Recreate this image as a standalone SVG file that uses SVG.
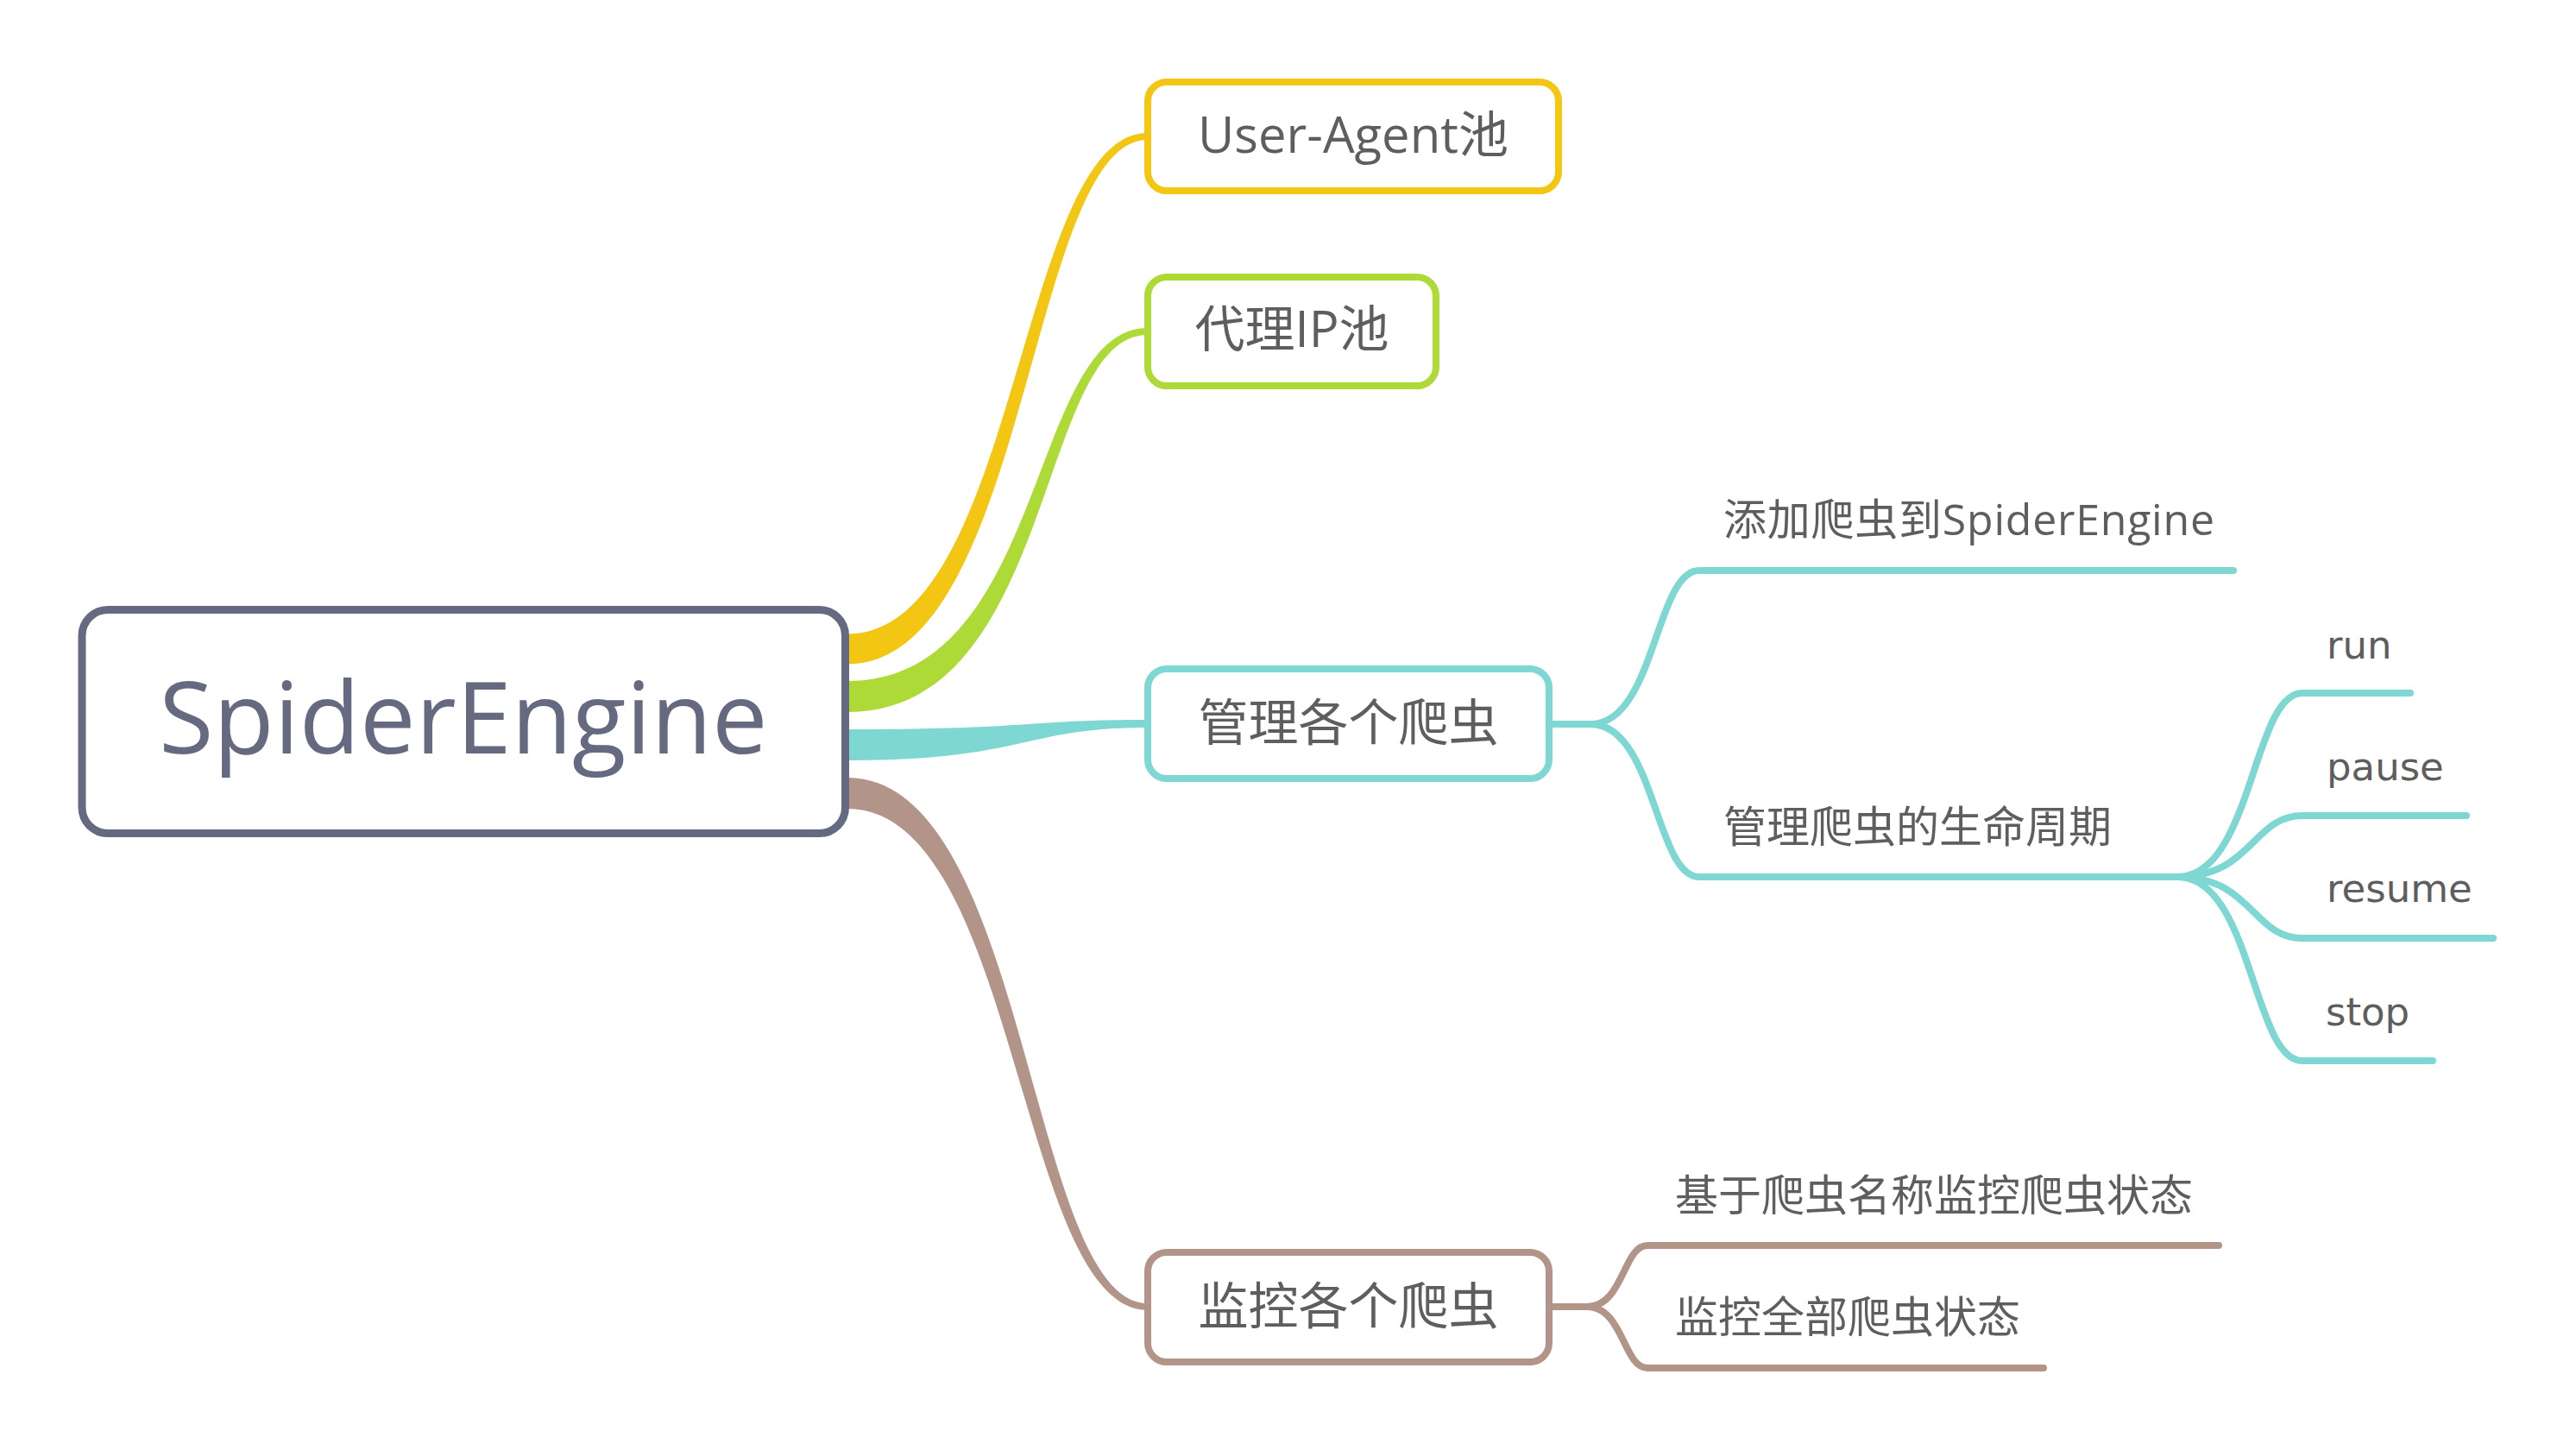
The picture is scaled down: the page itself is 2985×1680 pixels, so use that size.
<svg xmlns="http://www.w3.org/2000/svg" width="2985" height="1680" viewBox="0 0 2985 1680">
<style>
.bg{fill:#ffffff}
.box{fill:#ffffff;stroke-width:8}
.t{font-family:"Open Sans","Noto Sans CJK SC",sans-serif;fill:#5e5e5e}
.rt{font-family:"Open Sans",sans-serif;fill:#656A80;font-size:115px;text-anchor:middle}
.main{font-size:58px;text-anchor:middle}
.sub{font-size:50px}
.leaf{font-family:"DejaVu Sans",sans-serif;font-size:45px;fill:#5e5e5e}
.ln{fill:none;stroke-width:8;stroke-linecap:round;stroke-linejoin:round}
.cy{stroke:#7ED7D3}
.br{stroke:#B39489}
</style>
<rect class="bg" x="0" y="0" width="2985" height="1680"/>
<g id="connectors">
  <path d="M982,734.5 C1180,734.5 1180,154 1330,154 L1330,162 C1192,162 1192,769.5 982,769.5 Z" fill="#F3C614"/>
  <path d="M982,789 C1214,789 1191,380 1330,380 L1330,388 C1201,388 1224,825 982,825 Z" fill="#ADDA36"/>
  <path d="M982,845 C1200,845 1186,834 1330,834 L1330,843 C1186,843 1186,881 982,881 Z" fill="#7ED7D3"/>
  <path d="M982,901 C1192,901 1192,1510 1330,1510 L1330,1518 C1180,1518 1180,937 982,937 Z" fill="#B39489"/>
  <path class="ln cy" d="M1795,839 H1843 C1918,839 1918,661 1969,661 H2588"/>
  <path class="ln cy" d="M1843,839 C1918,839 1918,1016 1969,1016 H2523"/>
  <path class="ln cy" d="M2523,1016 C2610,1016 2610,803 2668,803 H2793"/>
  <path class="ln cy" d="M2523,1016 C2610,1016 2610,945 2668,945 H2858"/>
  <path class="ln cy" d="M2523,1016 C2610,1016 2610,1087 2668,1087 H2889"/>
  <path class="ln cy" d="M2523,1016 C2610,1016 2610,1229 2668,1229 H2819"/>
  <path class="ln br" d="M1795,1514 H1839 C1881,1514 1881,1443 1909,1443 H2571"/>
  <path class="ln br" d="M1839,1514 C1881,1514 1881,1585 1909,1585 H2368"/>
</g>
<g id="root">
  <rect x="95" y="706.5" width="884.5" height="259" rx="30" fill="#ffffff" stroke="#646A80" stroke-width="9"/>
  <text class="rt" x="537" y="873">SpiderEngine</text>
</g>
<g id="node-ua">
  <rect class="box" x="1330" y="95" width="476" height="126" rx="22" stroke="#F3C614"/>
  <text class="t main" x="1568" y="177">User-Agent池</text>
</g>
<g id="node-proxy">
  <rect class="box" x="1330" y="321" width="334" height="126" rx="22" stroke="#ADDA36"/>
  <text class="t main" x="1497" y="402">代理IP池</text>
</g>
<g id="node-manage">
  <rect class="box" x="1330" y="775" width="465" height="127" rx="22" stroke="#7ED7D3"/>
  <text class="t main" x="1562.5" y="858">管理各个爬虫</text>
</g>
<g id="node-monitor">
  <rect class="box" x="1330" y="1451" width="465" height="127" rx="22" stroke="#B39489"/>
  <text class="t main" x="1562.5" y="1534">监控各个爬虫</text>
</g>
<g id="node-add"><text class="t sub" x="1997" y="620" textLength="569">添加爬虫到SpiderEngine</text></g>
<g id="node-lifecycle"><text class="t sub" x="1997" y="976">管理爬虫的生命周期</text></g>
<g id="node-run"><text class="leaf" x="2696" y="763">run</text></g>
<g id="node-pause"><text class="leaf" x="2696" y="904">pause</text></g>
<g id="node-resume"><text class="leaf" x="2696" y="1045">resume</text></g>
<g id="node-stop"><text class="leaf" x="2695" y="1188">stop</text></g>
<g id="node-byname"><text class="t sub" x="1941" y="1403">基于爬虫名称监控爬虫状态</text></g>
<g id="node-all"><text class="t sub" x="1941" y="1544">监控全部爬虫状态</text></g>
</svg>
